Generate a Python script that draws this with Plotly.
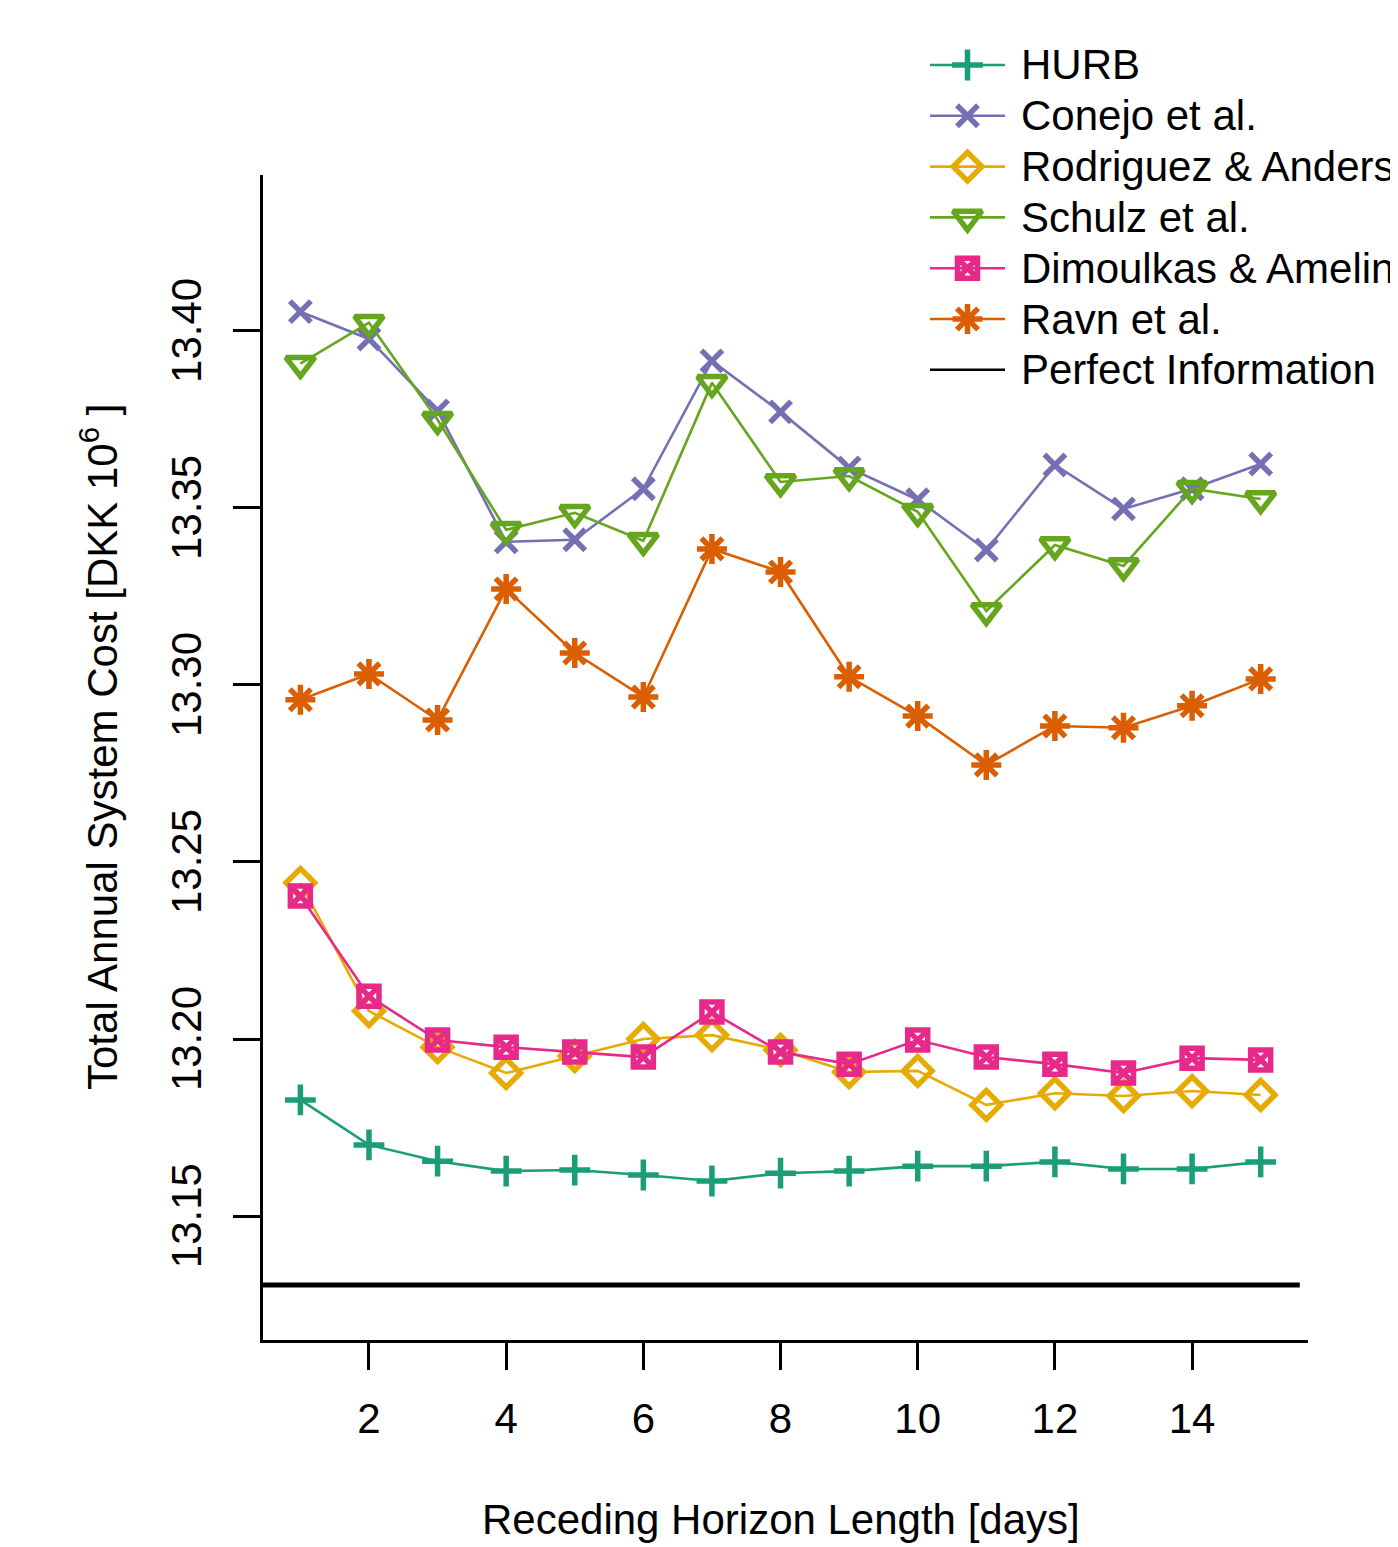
import plotly.graph_objects as go

horizon = list(range(1, 16))

hurb = [13.1828, 13.1701, 13.1655, 13.1627, 13.1630, 13.1616, 13.1599, 13.1621,
        13.1627, 13.1641, 13.1641, 13.1653, 13.1633, 13.1633, 13.1653]
conejo = [13.4054, 13.3977, 13.3774, 13.3404, 13.3410, 13.3554, 13.3915, 13.3771,
          13.3613, 13.3523, 13.3381, 13.3621, 13.3497, 13.3554, 13.3624]
rodriguez = [13.2441, 13.2079, 13.1977, 13.1904, 13.1952, 13.2000, 13.2011, 13.1969,
             13.1907, 13.1910, 13.1814, 13.1847, 13.1839, 13.1853, 13.1842]
schulz = [13.3907, 13.4023, 13.3749, 13.3438, 13.3486, 13.3407, 13.3853, 13.3573,
          13.3590, 13.3489, 13.3209, 13.3395, 13.3336, 13.3554, 13.3525]
dimoulkas = [13.2404, 13.2121, 13.1997, 13.1977, 13.1963, 13.1949, 13.2076, 13.1963,
             13.1929, 13.1997, 13.1949, 13.1929, 13.1904, 13.1946, 13.1941]
ravn = [13.2958, 13.3031, 13.2901, 13.3271, 13.3090, 13.2966, 13.3384, 13.3319,
        13.3023, 13.2912, 13.2774, 13.2884, 13.2879, 13.2941, 13.3017]
perfect_info = 13.1305
perfect_x = [0.455, 15.57]

series_names = ["HURB", "Conejo et al.", "Rodriguez & Andersen", "Schulz et al.",
                "Dimoulkas & Amelin", "Ravn et al.", "Perfect Information"]

x_ticks = [2, 4, 6, 8, 10, 12, 14]
y_ticks = [13.15, 13.20, 13.25, 13.30, 13.35, 13.40]

x_title = "Receding Horizon Length [days]"
y_title = "Total Annual System Cost [DKK 10<sup>6</sup> ]"

FONT = "Liberation Sans, Arial, Helvetica, sans-serif"
W, H = 1390, 1539          # figure size (page body adds an 8px offset)
OFF = 8

def px_x(wx):
    return (wx - OFF) / W

def px_y(wy):
    return 1 - (wy - OFF) / H

styles = [
    ("#1B9E77", "cross-thin-open", 22),
    ("#7570B3", "x-thin-open", 21),
    ("#E6AB02", "diamond-open", 22),
    ("#66A61E", "triangle-down-open", 25),
    ("#E7298A", "square-x-open", 20),
    ("#D95F02", "asterisk-open", 25),
]
values = [hurb, conejo, rodriguez, schulz, dimoulkas, ravn]
MLW = 5.5

fig = go.Figure()
for name, vals, (color, sym, size) in zip(series_names, values, styles):
    fig.add_trace(go.Scatter(
        x=horizon, y=vals, name=name, mode="lines+markers",
        line=dict(color=color, width=2.6),
        marker=dict(symbol=sym, size=size, color=color,
                    line=dict(color=color, width=MLW)),
        cliponaxis=False, showlegend=False,
    ))

fig.add_trace(go.Scatter(
    x=perfect_x, y=[perfect_info, perfect_info], name=series_names[-1],
    mode="lines", line=dict(color="black", width=5), showlegend=False,
))

# ---- manual legend (R style: long key line, marker in middle) ----
leg_rows = [65 + 50.8 * i for i in range(7)]
key_x0, key_x1, key_xm, text_x = 930, 1005, 967.5, 1019
for i, name in enumerate(series_names):
    wy = leg_rows[i] - OFF
    color = styles[i][0] if i < len(styles) else "black"
    fig.add_trace(go.Scatter(
        x=[key_x0 - OFF, key_x1 - OFF], y=[wy, wy], mode="lines",
        line=dict(color=color, width=2.6), xaxis="x2", yaxis="y2",
        showlegend=False, hoverinfo="skip", cliponaxis=False))
    if i < len(styles):
        _, sym, size = styles[i]
        fig.add_trace(go.Scatter(
            x=[key_xm - OFF], y=[wy], mode="markers",
            marker=dict(symbol=sym, size=size, color=color,
                        line=dict(color=color, width=MLW)),
            xaxis="x2", yaxis="y2", showlegend=False, hoverinfo="skip",
            cliponaxis=False))
    fig.add_annotation(
        x=px_x(text_x), y=px_y(leg_rows[i]), xref="paper", yref="paper",
        text=name, showarrow=False, xanchor="left", yanchor="middle",
        font=dict(size=42, family=FONT, color="black"))

# axis titles (placed like R's mtext)
fig.add_annotation(x=px_x(781), y=px_y(1519), xref="paper", yref="paper",
                   text=x_title, showarrow=False, xanchor="center", yanchor="middle",
                   font=dict(size=42, family=FONT, color="black"))
fig.add_annotation(x=px_x(99), y=px_y(747), xref="paper", yref="paper",
                   text=y_title, showarrow=False, xanchor="center", yanchor="middle",
                   textangle=-90, font=dict(size=42, family=FONT, color="black"))

axis_common = dict(
    showgrid=False, zeroline=False, showline=True, linecolor="black", linewidth=2.5,
    ticks="outside", ticklen=27, tickwidth=2.5, tickcolor="black",
    tickfont=dict(size=42, color="black", family=FONT),
    mirror=False,
)

fig.update_layout(
    width=W, height=H,
    paper_bgcolor="white", plot_bgcolor="rgba(0,0,0,0)",
    margin=dict(l=0, r=0, t=0, b=0, autoexpand=False),
    font=dict(family=FONT, color="black", size=42),
    xaxis=dict(**axis_common, domain=[px_x(263), px_x(1308)],
               range=[0.455, 15.69], tickvals=x_ticks,
               ticktext=[str(v) for v in x_ticks], ticklabelstandoff=13),
    yaxis=dict(**axis_common, domain=[px_y(1340), px_y(175)],
               range=[13.115, 13.444], tickvals=y_ticks,
               ticktext=[f"{v:.2f}\u00a0" for v in y_ticks], tickangle=-90,
               ticklabelstandoff=15),
    xaxis2=dict(domain=[0, 1], range=[0, W], visible=False, fixedrange=True),
    yaxis2=dict(domain=[0, 1], range=[H, 0], visible=False, fixedrange=True,
                anchor="x2"),
    showlegend=False,
)

fig.write_html("out.html")
